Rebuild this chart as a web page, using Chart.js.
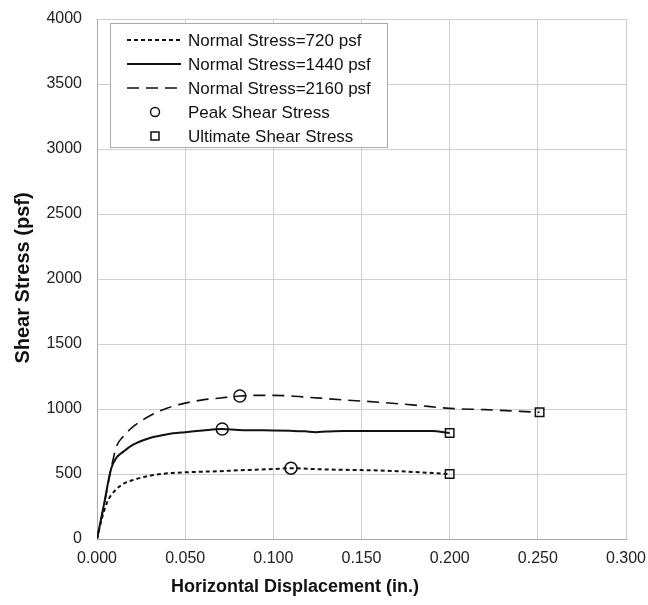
<!DOCTYPE html>
<html>
<head>
<meta charset="utf-8">
<script src="https://cdn.jsdelivr.net/npm/chart.js@4"></script>
<style>
  html, body { margin: 0; padding: 0; background: #fff; }
  #wrap { width: 648px; height: 605px; }
</style>
</head>
<body>
<div id="wrap"><canvas id="shearChart" width="648" height="605"></canvas></div>
<script>
// series: displacement (in.) and shear stress (psf)
const disp720 = [0, 0.003, 0.006, 0.010, 0.015, 0.020, 0.030, 0.040, 0.050, 0.060, 0.070, 0.080, 0.090, 0.100, 0.110, 0.120, 0.130, 0.140, 0.150, 0.160, 0.170, 0.180, 0.190, 0.200];
const stress720 = [0, 170, 290, 370, 425, 452, 487, 505, 513, 518, 522, 528, 533, 538, 545, 540, 535, 532, 530, 527, 522, 515, 508, 500];

const disp1440 = [0, 0.004, 0.008, 0.011, 0.015, 0.020, 0.030, 0.040, 0.050, 0.060, 0.071, 0.080, 0.090, 0.100, 0.110, 0.118, 0.124, 0.130, 0.140, 0.150, 0.160, 0.170, 0.180, 0.190, 0.200];
const stress1440 = [0, 270, 540, 625, 672, 722, 777, 806, 822, 835, 846, 838, 836, 835, 832, 828, 822, 826, 830, 830, 830, 830, 830, 830, 815];

const disp2160 = [0, 0.004, 0.008, 0.011, 0.015, 0.020, 0.030, 0.040, 0.050, 0.060, 0.070, 0.081, 0.090, 0.100, 0.110, 0.120, 0.140, 0.160, 0.180, 0.200, 0.220, 0.240, 0.251];
const stress2160 = [0, 260, 540, 710, 790, 858, 948, 1008, 1045, 1070, 1085, 1100, 1105, 1105, 1100, 1090, 1070, 1052, 1030, 1005, 995, 982, 975];

const peakDisp = [0.110, 0.071, 0.081];
const peakStress = [545, 846, 1100];
const ultDisp = [0.200, 0.200, 0.251];
const ultStress = [500, 815, 975];

const seriesLabels = ['Normal Stress=720 psf', 'Normal Stress=1440 psf', 'Normal Stress=2160 psf', 'Peak Shear Stress', 'Ultimate Shear Stress'];
const xTitle = 'Horizontal Displacement (in.)';
const yTitle = 'Shear Stress (psf)';

const pts = (xs, ys) => xs.map((x, i) => ({ x: x, y: ys[i] }));
const FONT = '"Liberation Sans", Arial, sans-serif';

// legend box drawn inside the plot, plus the two axis titles
const legendBox = {
  id: 'legendBox',
  beforeDatasetsDraw(chart) {
    const ctx = chart.ctx;
    ctx.save();
    ctx.fillStyle = '#fff';
    ctx.fillRect(110, 23, 277, 124);
    ctx.strokeStyle = '#aaa';
    ctx.lineWidth = 1;
    ctx.strokeRect(110.5, 23.5, 277, 124);
    ctx.font = '17px ' + FONT;
    ctx.textBaseline = 'middle';
    chart.data.datasets.forEach((ds, i) => {
      const y = 40 + i * 24;
      ctx.strokeStyle = '#111';
      if (ds.showLine !== false) {
        ctx.lineWidth = ds.borderWidth;
        ctx.setLineDash(ds.borderDash || []);
        ctx.beginPath();
        ctx.moveTo(127, y);
        ctx.lineTo(181, y);
        ctx.stroke();
        ctx.setLineDash([]);
      } else {
        ctx.lineWidth = 1.5;
        ctx.beginPath();
        if (ds.pointStyle === 'rect') ctx.rect(151, y - 4, 8, 8);
        else ctx.arc(155, y, 4.5, 0, Math.PI * 2);
        ctx.stroke();
      }
      ctx.fillStyle = '#111';
      ctx.textAlign = 'left';
      ctx.fillText(ds.label, 188, y + 1);
    });
    ctx.restore();
  },
  afterDraw(chart) {
    const ctx = chart.ctx;
    const a = chart.chartArea;
    ctx.save();
    ctx.fillStyle = '#111';
    ctx.textAlign = 'center';
    ctx.textBaseline = 'middle';
    ctx.font = 'bold 18px ' + FONT;
    ctx.fillText(xTitle, 295, 587);
    ctx.font = 'bold 20px ' + FONT;
    ctx.translate(23, 278);
    ctx.rotate(-Math.PI / 2);
    ctx.fillText(yTitle, 0, 0);
    ctx.restore();
  }
};

const lineDs = (label, data, dash, width) => ({
  label: label, data: data, showLine: true,
  borderColor: '#111', borderWidth: width, borderDash: dash,
  pointRadius: 0, cubicInterpolationMode: 'monotone', fill: false
});
const markDs = (label, data, style) => ({
  label: label, data: data, showLine: false, pointStyle: style,
  pointRadius: 6, pointBorderWidth: 1.5, borderColor: '#111',
  pointBorderColor: '#111', pointBackgroundColor: 'rgba(255,255,255,0)'
});

new Chart(document.getElementById('shearChart'), {
  type: 'scatter',
  data: {
    datasets: [
      lineDs(seriesLabels[0], pts(disp720, stress720), [4, 3], 2),
      lineDs(seriesLabels[1], pts(disp1440, stress1440), [], 2),
      lineDs(seriesLabels[2], pts(disp2160, stress2160), [12, 7], 1.6),
      markDs(seriesLabels[3], pts(peakDisp, peakStress), 'circle'),
      markDs(seriesLabels[4], pts(ultDisp, ultStress), 'rect')
    ]
  },
  options: {
    responsive: false,
    animation: false,
    layout: { padding: { left: 0, right: 22, top: 19, bottom: 0 } },
    plugins: { legend: { display: false }, tooltip: { enabled: false } },
    scales: {
      x: {
        type: 'linear', min: 0, max: 0.3,
        afterFit: s => { s.height = 66; s.paddingLeft = 0; s.paddingRight = 0; },
        grid: { color: '#cfcfcf', lineWidth: 1, drawTicks: false },
        border: { color: '#aaa' },
        ticks: {
          stepSize: 0.05, padding: 10, color: '#222',
          font: { family: FONT, size: 16 },
          callback: v => v.toFixed(3)
        }
      },
      y: {
        min: 0, max: 4000,
        afterFit: s => { s.width = 97; s.paddingTop = 0; s.paddingBottom = 0; },
        grid: { color: '#cfcfcf', lineWidth: 1, drawTicks: false },
        border: { color: '#aaa' },
        ticks: {
          stepSize: 500, padding: 15, color: '#222',
          font: { family: FONT, size: 16 },
          callback: v => String(v)
        }
      }
    }
  },
  plugins: [legendBox]
});
</script>
</body>
</html>
